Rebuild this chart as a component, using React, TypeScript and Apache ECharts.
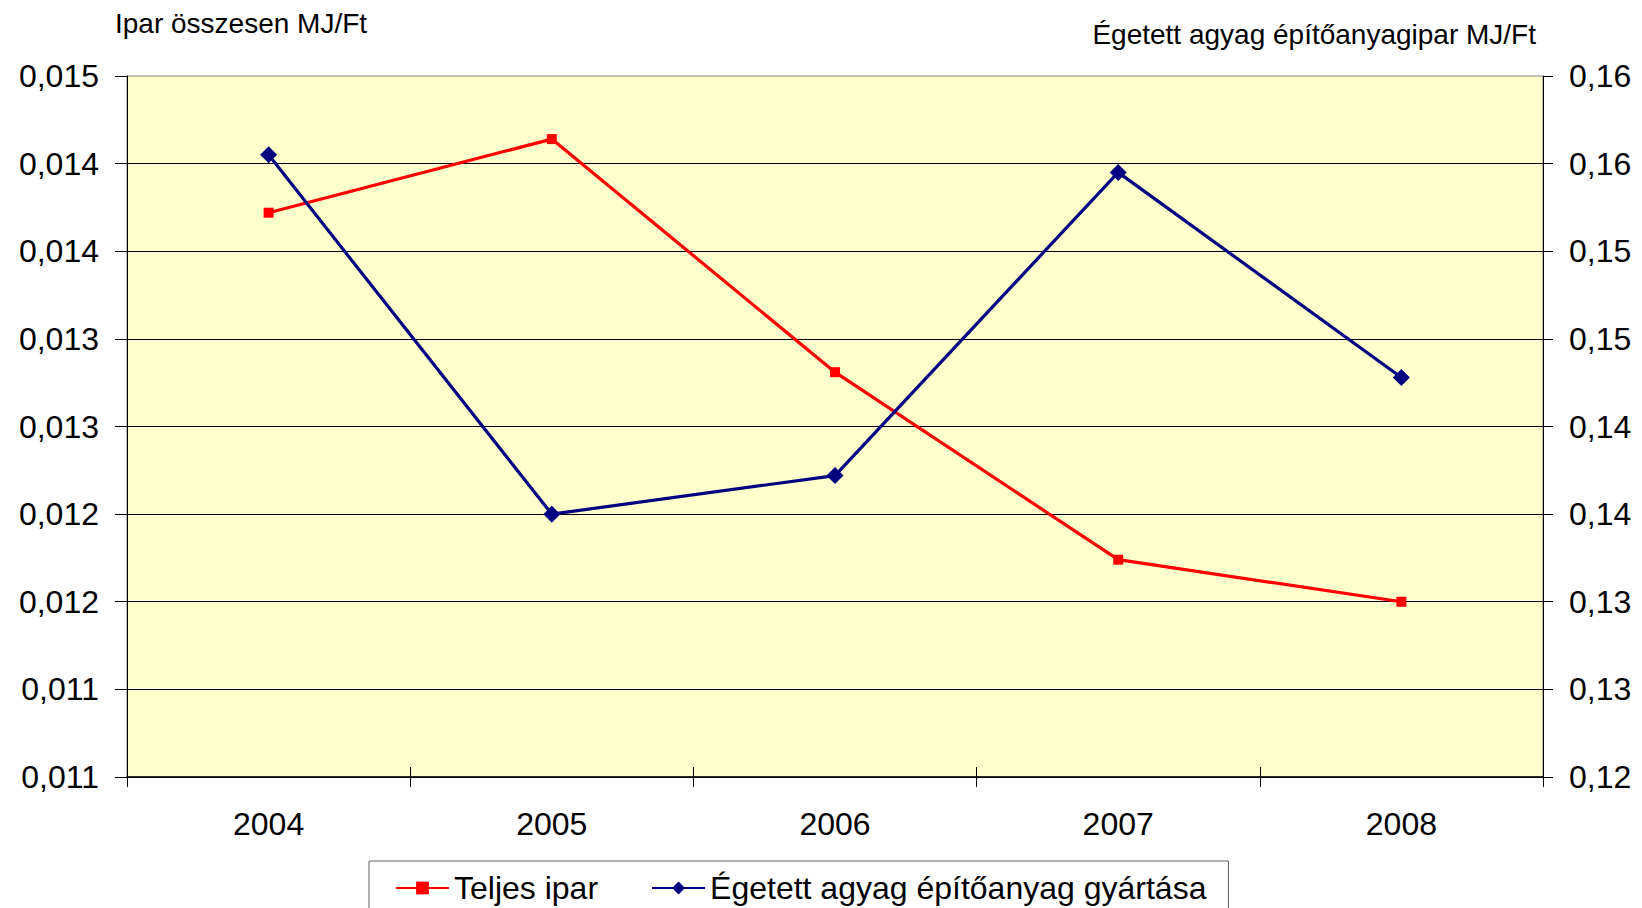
import React, { useEffect, useRef } from "react";
import * as echarts from "echarts";

const years = ["2004", "2005", "2006", "2007", "2008"];
const teljesIpar = [0.01422, 0.01464, 0.01331, 0.01224, 0.012];
const egetettAgyag = [0.1555, 0.135, 0.1372, 0.1545, 0.1428];
const leftTickLabels = ["0,011", "0,011", "0,012", "0,012", "0,013", "0,013", "0,014", "0,014", "0,015"];
const rightTickLabels = ["0,12", "0,13", "0,13", "0,14", "0,14", "0,15", "0,15", "0,16", "0,16"];
const seriesNames = ["Teljes ipar", "Égetett agyag építőanyag gyártása"];
const leftTitle = "Ipar összesen MJ/Ft";
const rightTitle = "Égetett agyag építőanyagipar MJ/Ft";

const FONT = "'Liberation Sans', Arial, sans-serif";

export default function App() {
  const ref = useRef<HTMLDivElement>(null);
  useEffect(() => {
    if (!ref.current) return;
    const chart = echarts.init(ref.current, undefined, { renderer: "svg" });
    const option: any = {
      animation: false,
      textStyle: { fontFamily: FONT, color: "#000" },
      grid: {
        left: 127,
        right: 99,
        top: 76,
        bottom: 131,
        show: true,
        backgroundColor: "#FFFFCC",
        borderColor: "#808080",
        borderWidth: 1,
      },
      graphic: [
        {
          type: "text",
          left: 115,
          top: 9,
          style: { text: leftTitle, font: `28px ${FONT}`, fill: "#000" },
        },
        {
          type: "text",
          right: 1642 - 1536,
          top: 20,
          style: { text: rightTitle, font: `28px ${FONT}`, fill: "#000" },
        },
      ],
      legend: {
        left: 369,
        top: 861,
        orient: "horizontal",
        backgroundColor: "#fff",
        borderColor: "#606060",
        borderWidth: 1,
        padding: [11, 22, 14, 26],
        itemGap: 53,
        itemWidth: 53,
        itemHeight: 16,
        textStyle: { fontSize: 32, fontFamily: FONT, color: "#000" },
        data: seriesNames,
      },
      xAxis: [
        {
          type: "category",
          data: years,
          boundaryGap: true,
          position: "bottom",
          axisLine: { show: true, lineStyle: { color: "#000", width: 1.5 } },
          axisTick: { show: true, inside: true, length: 10, lineStyle: { color: "#000" } },
          axisLabel: { fontSize: 32, color: "#000", margin: 31, fontFamily: FONT },
        },
        {
          type: "category",
          data: years,
          boundaryGap: true,
          position: "bottom",
          axisLine: { show: false },
          axisTick: { show: true, inside: false, length: 10, lineStyle: { color: "#000" } },
          axisLabel: { show: false },
        },
      ],
      yAxis: [
        {
          type: "value",
          min: 0.011,
          max: 0.015,
          interval: 0.0005,
          position: "left",
          axisLine: { show: true, lineStyle: { color: "#000", width: 1 } },
          axisTick: { show: true, length: 12, lineStyle: { color: "#000" } },
          axisLabel: {
            fontSize: 32,
            color: "#000",
            margin: 28,
            fontFamily: FONT,
            formatter: (_v: number, i: number) => leftTickLabels[i] ?? "",
          },
          splitLine: { show: true, showMaxLine: false, lineStyle: { color: "#000", width: 1 } },
        },
        {
          type: "value",
          min: 0.12,
          max: 0.16,
          interval: 0.005,
          position: "right",
          axisLine: { show: true, lineStyle: { color: "#000", width: 1 } },
          axisTick: { show: true, length: 10, lineStyle: { color: "#000" } },
          axisLabel: {
            fontSize: 32,
            color: "#000",
            margin: 26,
            fontFamily: FONT,
            formatter: (_v: number, i: number) => rightTickLabels[i] ?? "",
          },
          splitLine: { show: false },
        },
      ],
      series: [
        {
          name: seriesNames[0],
          type: "line",
          xAxisIndex: 0,
          yAxisIndex: 0,
          data: teljesIpar,
          symbol: "rect",
          symbolSize: 10,
          itemStyle: { color: "#FF0000" },
          lineStyle: { color: "#FF0000", width: 3.2 },
        },
        {
          name: seriesNames[1],
          type: "line",
          xAxisIndex: 0,
          yAxisIndex: 1,
          data: egetettAgyag,
          symbol: "diamond",
          symbolSize: 17,
          itemStyle: { color: "#000080" },
          lineStyle: { color: "#000080", width: 3.2 },
        },
      ],
    };
    chart.setOption(option);
    return () => chart.dispose();
  }, []);
  return (
    <div
      ref={ref}
      style={{ position: "absolute", left: 0, top: 0, width: 1642, height: 908, background: "#fff" }}
    />
  );
}
